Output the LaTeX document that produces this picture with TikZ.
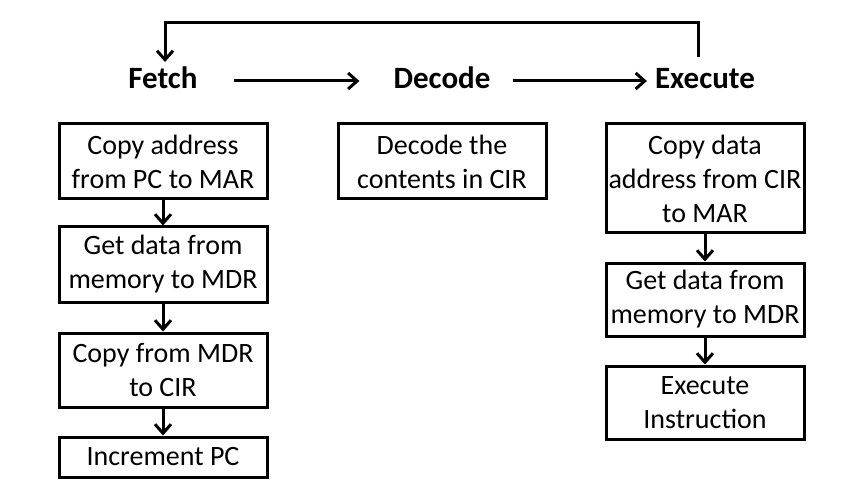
\documentclass[tikz,border=0pt]{standalone}
\usepackage{fontspec}
\setmainfont{Carlito}
\usetikzlibrary{arrows.meta}

\begin{document}
\begin{tikzpicture}[x=1pt, y=-1pt,
  flow/.style={line width=3pt, -{Straight Barb[length=9pt,width=16pt]}},
  stage/.style={font=\fontsize{31}{37}\selectfont\bfseries, inner sep=0pt,
    text height=16pt, text depth=0pt, anchor=base},
  box/.style={draw, line width=3pt, align=center, inner xsep=2pt, inner ysep=0pt,
    minimum width=208pt, font=\fontsize{28}{34}\selectfont}]
\useasboundingbox (0,0) rectangle (863,492);
% stages
\node[stage] (fetch) at (163,89) {Fetch};
\node[stage] (decode) at (442,89) {Decode};
\node[stage] (execute) at (705,89) {Execute};
\draw[flow, shorten <=36pt, shorten >=34pt] (fetch.east) -- (decode.west);
\draw[flow, shorten <=22pt, shorten >=8pt] (decode.east) -- (execute.west);
\coordinate (loopR) at (698,57);
\coordinate (loopL) at (165,62);
\draw[flow] (loopR) -- (698,23) -- (165,23) -- (loopL);
% fetch steps
\node[box, minimum height=75pt] (f1) at (163,161.5) {Copy address\\from PC to MAR};
\node[box, minimum height=75pt] (f2) at (163,264.5) {Get data from\\memory to MDR};
\node[box, minimum height=74pt] (f3) at (163,370) {Copy from MDR\\to CIR};
\node[box, minimum height=40pt] (f4) at (163,457) {Increment PC};
\draw[flow] (f1) -- (f2);
\draw[flow] (f2) -- (f3);
\draw[flow] (f3) -- (f4);
% decode step
\node[box, minimum height=75pt] (d1) at (442,161.5) {Decode the\\contents in CIR};
% execute steps
\node[box, minimum width=198pt, minimum height=109pt] (e1) at (705,178.5) {Copy data\\address from CIR\\to MAR};
\node[box, minimum width=198pt, minimum height=73pt] (e2) at (705,299.5) {Get data from\\memory to MDR};
\node[box, minimum width=198pt, minimum height=73pt] (e3) at (705,402.5) {Execute\\Instruction};
\draw[flow] (e1) -- (e2);
\draw[flow] (e2) -- (e3);
\end{tikzpicture}
\end{document}
